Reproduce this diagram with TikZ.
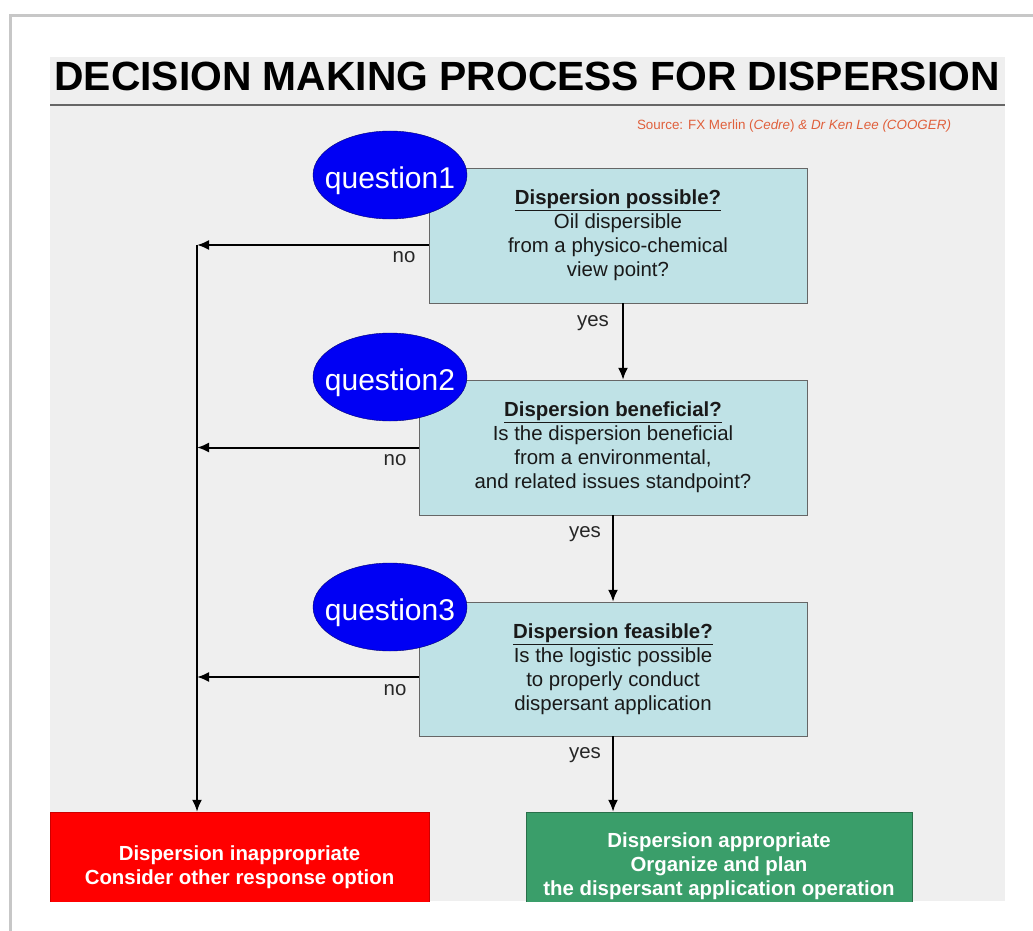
\documentclass[tikz,border=0pt]{standalone}
\usepackage{fontspec}
\setmainfont{Liberation Sans}
\usepackage{tikz}
\usetikzlibrary{arrows.meta,shapes.geometric,positioning}
\definecolor{panel}{HTML}{EFEFEF}
\definecolor{boxcyan}{HTML}{BFE2E6}
\definecolor{qblue}{HTML}{0000F4}
\definecolor{okgreen}{HTML}{3A9E6A}
\definecolor{srcorange}{HTML}{E0603C}
\tikzset{
    raw box/.style={rectangle, draw, align=center, inner sep=0pt},
    question box/.style={raw box, draw=black!60, fill=boxcyan, text=black!90, minimum height=135pt, font=\fontsize{20.4}{24}\selectfont},
    question oval/.style={ellipse, draw=blue!45!black, fill=qblue, text=white, minimum width=154pt, minimum height=88pt, inner xsep=-14pt, inner ysep=0pt, text height=27pt, text depth=0pt, font=\fontsize{30}{36}\selectfont},
    end box/.style={raw box, text=white, font=\fontsize{20.4}{24}\selectfont\bfseries},
    bad/.style={end box, draw=red!80!black, fill=red},
    good/.style={end box, draw=okgreen!70!black, fill=okgreen},
    answer/.style={font=\fontsize{20.4}{24}\selectfont, text=black!85}
}
\begin{document}
\begin{tikzpicture}[x=1pt, y=-1pt, >={Latex[length=12pt,width=10pt]},
	flow/.style={->, line width=2pt}]
		\useasboundingbox (0,0) rectangle (1033,931);
		% page and slide
		\fill[white] (0,0) rectangle (1033,931);
		\draw[black!22, line width=3pt] (10,931) -- (10,16) -- (1033,16);
		\fill[panel] (50,57) rectangle (1005,901);
		\node[anchor=base, font=\fontsize{40.8}{48}\selectfont\bfseries] (title) at (527,91) {DECISION MAKING PROCESS FOR DISPERSION};
		\draw[black!60, line width=1.2pt] (50,105) -- (1005,105);
		\node[font=\fontsize{13.4}{16}\selectfont, text=srcorange] (source) at (794,126) {Source: FX Merlin (\textit{Cedre}) \textit{\& Dr Ken Lee (COOGER)}};
		
		% questions
		\node[question box, minimum width=378pt] (nodepossible) at (618,235.5) {\underline{\textbf{Dispersion possible?}}\\Oil dispersible\\from a physico-chemical\\view point?};
		\node[question box, minimum width=388pt] (nodebeneficial) at (613,447.5) {\underline{\textbf{Dispersion beneficial?}}\\Is the dispersion beneficial\\from a environmental,\\and related issues standpoint?};
		\node[question box, minimum width=388pt, minimum height=134pt] (nodefeasible) at (613,669) {\underline{\textbf{Dispersion feasible?}}\\Is the logistic possible\\to properly conduct\\dispersant application};
		\node[question oval] (nodeq1) at (390,175) {question1};
		\node[question oval] (nodeq2) at (390,377) {question2};
		\node[question oval] (nodeq3) at (390,607) {question3};
		
		% outcomes, cut by the slide edge
		\begin{scope}
			\clip (50,57) rectangle (1005,901);
			\node[bad, minimum width=379pt, minimum height=110pt] (nodeinappropriate) at (239.5,867) {Dispersion inappropriate\\Consider other response option};
			\node[good, minimum width=386pt, minimum height=108pt] (nodeappropriate) at (719,866) {Dispersion appropriate\\Organize and plan\\the dispersant application operation};
		\end{scope}
		
		\coordinate (no1) at (197,245);
		\coordinate (no3) at (197,677);
		\coordinate (yes1) at (623,0);
		\draw[flow] (nodepossible.west |- no1) -- (no1);
		\draw[flow] (nodebeneficial.west) -- (nodebeneficial.west -| no1);
		\draw[flow] (nodefeasible.west |- no3) -- (no3);
		\draw[flow] (no1) -- (no1 |- nodeinappropriate.north);
		\draw[flow] (nodepossible.south -| yes1) -- (nodebeneficial.north -| yes1);
		\draw[flow] (nodebeneficial.south) -- (nodefeasible.north);
		\draw[flow] (nodefeasible.south) -- (nodefeasible.south |- nodeappropriate.north);
		
		\node[answer] (nodeno1) at (404,257) {no};
		\node[answer] (nodeno2) at (395,460) {no};
		\node[answer] (nodeno3) at (395,690) {no};
		\node[answer] (nodeyes1) at (593,323) {yes};
		\node[answer] (nodeyes2) at (585,534) {yes};
		\node[answer] (nodeyes3) at (585,755) {yes};
	\end{tikzpicture}
\end{document}
